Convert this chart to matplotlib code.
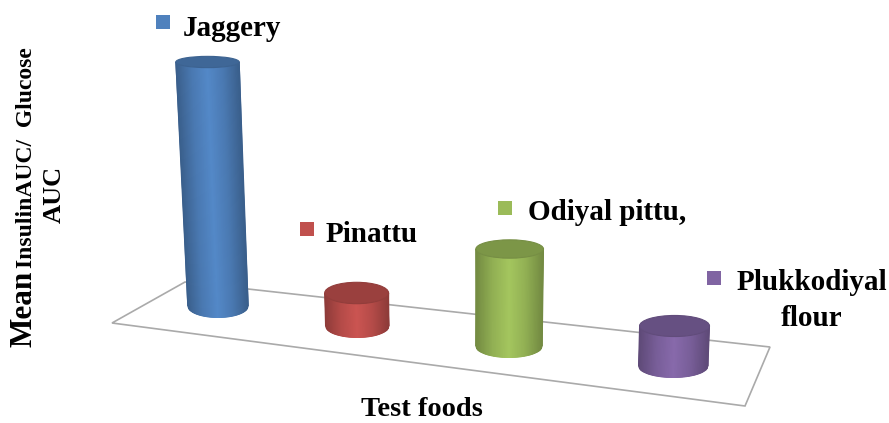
import numpy as np
import matplotlib
matplotlib.use("Agg")
import matplotlib.pyplot as plt
from matplotlib.colors import LinearSegmentedColormap, to_rgb
from matplotlib.patches import Ellipse, Polygon

# --- data -------------------------------------------------------------
categories = ["Jaggery", "Pinattu", "Odiyal pittu,", "Plukkodiyal\nflour"]
values = [2.44, 0.33, 0.97, 0.40]          # (no scale printed)
colors = ["#4F81BD", "#C0504D", "#9BBB59", "#8064A2"]
x_label = "Test foods"
y_label_big = "Mean"
y_label_small = "InsulinAUC/  Glucose"
y_label_second = "AUC"

# --- projection of (category index, value) to picture coordinates -------
PX_PER_UNIT = 100.0
def project(i, v=0.0):
    x = 218 + 133 * i + 6.25 * i * i + (-4.3 + 2.5 * i) * v
    y = 306 + 20 * i - PX_PER_UNIT * v
    return x, y

def cyl_width(i, v=0.0):
    return 60.5 + 3 * i + 1.2 * v

def cyl_ry(v=0.0):
    return 11.5 - 2.4 * v

plt.rcParams["font.family"] = ["Liberation Serif", "DejaVu Serif"]
fig = plt.figure(figsize=(8.89, 4.23), dpi=100, facecolor="white")
ax = fig.add_axes([0, 0, 1, 1])
ax.set_xlim(0, 889)
ax.set_ylim(423, 0)
ax.axis("off")

# floor
floor = Polygon([(112, 323), (185, 282), (770, 347), (745, 406)], closed=True,
                fill=False, edgecolor="#aaaaaa", linewidth=1.2, zorder=1)
ax.add_patch(floor)

# cylinders
u = np.linspace(0, 1, 61)
for i, (val, col) in enumerate(zip(values, colors)):
    c = np.array(to_rgb(col))
    cmap = LinearSegmentedColormap.from_list(
        f"c{i}", [c * 0.74, c * 0.94, np.minimum(c * 1.06, 1), c * 0.94, c * 0.74])
    bx, by = project(i, 0)
    tx, ty = project(i, val)
    bw, tw = cyl_width(i, 0), cyl_width(i, val)
    arc = np.sqrt(np.clip(1 - (2 * u - 1) ** 2, 0, 1))
    X = np.vstack([bx - bw / 2 + u * bw, tx - tw / 2 + u * tw])
    Y = np.vstack([by + cyl_ry(0) * arc, ty + cyl_ry(val) * arc])
    C = np.vstack([u, u])
    ax.pcolormesh(X, Y, C, cmap=cmap, shading="gouraud", vmin=0, vmax=1, zorder=2)
    ax.add_patch(Ellipse((tx, ty), tw, 2 * cyl_ry(val), facecolor=c * 0.80,
                         edgecolor=c * 0.76, linewidth=0.8, zorder=3))

# point labels with square keys
key_xy = [(162.5, 22.5), (306.5, 229.5), (504.5, 208.5), (713.5, 278.5)]
label_xy = [(183, 35.5), (326, 242), (528, 220), (737, 290.5)]
label_size = 21
for (kx, ky), col in zip(key_xy, colors):
    ax.scatter([kx], [ky], marker="s", s=108, color=col, linewidths=0, zorder=4)
label_kw = dict(fontsize=label_size, fontweight="bold", color="black",
                va="baseline", zorder=5)
for name, (lx, ly) in zip(categories[:3], label_xy[:3]):
    ax.text(lx, ly, name, ha="left", **label_kw)
first, second = categories[3].split("\n")
ax.text(label_xy[3][0], label_xy[3][1], first, ha="left", **label_kw)
ax.text(812, 325.5, second, ha="center", **label_kw)

# axis titles
ax.text(422, 416.5, x_label, fontsize=20.5, fontweight="bold", ha="center", va="baseline")
rot_kw = dict(fontweight="bold", rotation=90, rotation_mode="anchor",
              ha="left", va="baseline")
ax.text(32, 347, y_label_big, fontsize=22.5, **rot_kw)
ax.text(32, 268, y_label_small, fontsize=17, **rot_kw)
ax.text(61, 223, y_label_second, fontsize=19, **rot_kw)

fig.savefig("out.png", dpi=100, facecolor="white")
